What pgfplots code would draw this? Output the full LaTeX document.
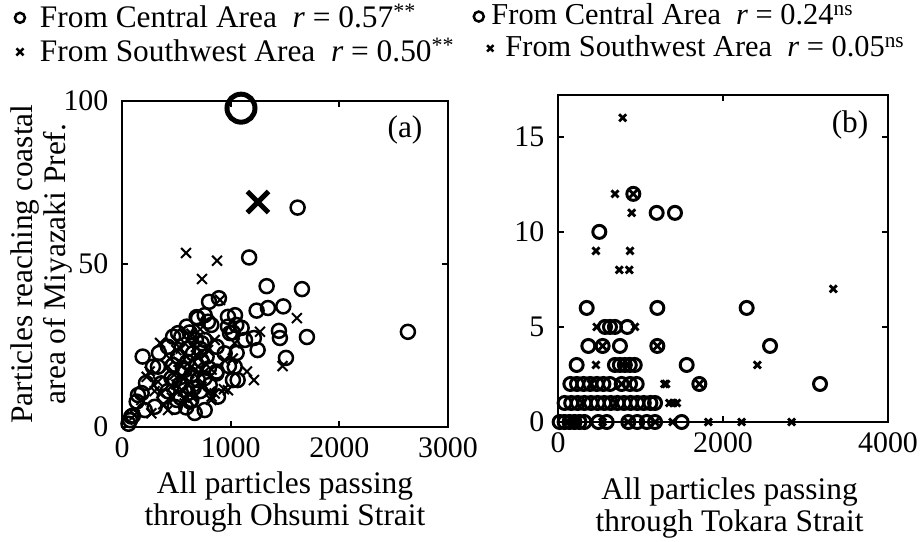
\documentclass[border=0pt]{standalone}
\usepackage{pgfplots}
\pgfplotsset{compat=1.18}
\usepackage{fontspec}
\setmainfont{Liberation Serif}
\newcommand{\bigf}{\fontsize{31.5}{33}\selectfont}
\newcommand{\legbf}{\fontsize{30.5}{32}\selectfont}
\newcommand{\tickf}{\fontsize{30}{32}\selectfont}

\pgfplotstableread{
x y
1616 67.3
1170 52
1331 43.2
1656 42.3
892 39.5
801 38.4
2631 29.2
1484 37
1343 36.5
1239 35.7
1702 27.6
1444 29.5
1453 27.3
1509 21.2
1248 23.6
1214 27.3
1064 14.4
984 18.7
1055 22.7
994 28.8
975 30.8
1040 34.3
975 33.8
1101 30.4
1132 26.7
687 33.7
791 32.3
595 30.8
516 28.8
470 27.7
190 21.6
340 22.7
285 18.5
181 10.4
74 2.1
100 3.5
60 1.0
135 7.8
503 8.3
626 7.8
610 10.4
871 17
779 21.6
871 24.6
733 25.7
680 26.7
86 3.2
147 9.8
221 13.5
331 18.5
423 24.6
546 27.7
623 29
699 33.3
761 34.3
822 31.3
1052 31.3
1020 29
945 22.6
1037 18.5
1021 14.4
868 16.4
807 12.9
638 8.3
485 6.2
393 9.3
301 6.2
209 5.2
730 20.5
653 22.6
577 17.5
485 14.4
699 14.4
515 21.6
761 26.7
577 11.3
362 13.4
883 9.3
761 5.2
669 4.3
420 11
455 15
530 13
560 18
600 20
640 16
690 19
720 11
760 15
800 18
540 9
470 19
610 24
660 12
590 6
720 24
}\tabAcen

\pgfplotstableread{
x y
589 53.4
875 51
736 45.4
1610 33.4
1270 29.2
1478 18.7
1214 14.4
938 11.6
825 9.3
902 39
350 25.8
227 15.4
810 10.8
825 17.6
331 13.9
255 17
423 18.5
500 23.6
577 25.7
669 26.7
791 23.6
853 10.3
822 8.3
178 8.3
362 10.3
454 12.4
546 15.4
607 19.5
699 18.5
730 12.4
577 7.2
423 5.2
270 4.2
117 3.7
945 20.5
853 26.7
1037 25.7
1150 17
975 11.3
1020 21
640 28.6
720 30
760 22
480 16
520 20
620 14
680 22
560 11
460 9
380 7
300 11
500 13
600 17
650 9
700 15
440 21
540 24
760 17
}\tabAsw

\pgfplotstableread{
x y
913 12
1196 11
1418 11
501 10
348 6
1204 6
2287 6
570 5
630 5
690 5
840 5
368 4
541 4
751 4
1204 4
2570 4
226 3
690 3
750 3
810 3
870 3
930 3
1560 3
150 2
230 2
310 2
390 2
470 2
550 2
630 2
772 2
873 2
954 2
1713 2
3176 2
80 1
160 1
240 1
320 1
400 1
480 1
560 1
640 1
720 1
800 1
880 1
960 1
1040 1
1120 1
1176 1
20 0
80 0
140 0
200 0
260 0
320 0
489 0
590 0
852 0
960 0
1075 0
1176 0
1499 0
}\tabBcen

\pgfplotstableread{
x y
784 16
691 12
913 12
893 11
460 9
873 9
743 8
864 8
3337 7
469 5
933 5
541 4
1204 4
460 3
2416 3
772 2
1290 2
1310 2
1713 2
1350 1
1398 1
1440 1
540 0
850 0
1176 0
1390 0
1822 0
2226 0
2832 0
300 1
700 1
200 0
400 2
}\tabBsw

\begin{document}
\bigf
\begin{tikzpicture}[font=\bigf]
\path[use as bounding box] (-122bp,-115bp) rectangle (800bp,427bp);
\pgfplotsset{
  myax/.style={
    scale only axis, clip=false,
    axis line style={line width=2.5bp},
    every tick/.style={line width=2bp, black},
    major tick length=6bp, tick align=inside,
    /pgf/number format/assume math mode=true,
    /pgf/number format/set thousands separator={},
    scaled ticks=false,
    tick label style={font=\tickf},
    yticklabel style={xshift=-3bp},
    legend style={draw=none, fill=none, font=\bigf, row sep=2bp,
      inner sep=0pt},
    legend cell align=left,
  },
  cen/.style={only marks, mark=o, mark size=7bp, mark options={line width=2.5bp}, black},
  sw/.style={only marks, mark=x, mark size=7bp, mark options={line width=2bp}, black},
}
\begin{axis}[myax, at={(0,0)}, anchor=south west,
  width=326bp, height=326bp,
  xmin=0, xmax=3000, ymin=0, ymax=100,
  xtick={0,1000,2000,3000}, ytick={0,50,100},
  xlabel={All particles passing\\through Ohsumi Strait},
  ylabel={Particles reaching coastal\\area of Miyazaki Pref.},
  every axis x label/.style={at={(axis description cs:0.5,-0.23)}, anchor=center, align=center, font=\bigf},
  every axis y label/.style={at={(axis description cs:-0.246,0.5)}, rotate=90, anchor=center, align=center, font=\bigf},
  legend style={at={(axis description cs:-0.329,1.305)}, anchor=north west},
]
\addlegendimage{only marks, mark=o, mark size=5bp, mark options={line width=2.5bp}, black}
\addlegendentry{\hspace{13bp}From Central Area\ \ \textit{r} = 0.57\textsuperscript{**}}
\addlegendimage{only marks, mark=x, mark size=5bp, mark options={line width=2.5bp}, black}
\addlegendentry{\hspace{13bp}From Southwest Area\ \ \textit{r} = 0.50\textsuperscript{**}}
\addplot[cen, forget plot] table[x=x,y=y] {\tabAcen};
\addplot[sw, forget plot] table[x=x,y=y] {\tabAsw};
\addplot[only marks, mark=o, mark size=14bp, mark options={line width=5bp}, black, forget plot] coordinates {(1095,97.8)};
\addplot[only marks, mark=x, mark size=15bp, mark options={line width=5bp}, black, forget plot] coordinates {(1251,69)};
\node at (rel axis cs:0.868,0.911) {(a)};
\end{axis}

\begin{axis}[myax, at={(436bp,5bp)}, anchor=south west,
  width=330bp, height=327bp,
  xmin=0, xmax=4000, ymin=0, ymax=17.2,
  xtick={0,2000,4000}, ytick={0,5,10,15},
  xlabel={All particles passing\\through Tokara Strait},
  every axis x label/.style={at={(axis description cs:0.52,-0.263)}, anchor=center, align=center, font=\bigf},
  legend style={at={(axis description cs:-0.267,1.286)}, anchor=north west, font=\legbf},
]
\addlegendimage{only marks, mark=o, mark size=5bp, mark options={line width=2.5bp}, black}
\addlegendentry{\hspace{2bp}From Central Area\ \ \textit{r} = 0.24\textsuperscript{ns}}
\addlegendimage{legend image code/.code={\path (0cm,0cm) (0.6cm,0cm); \draw[overlay, black, line width=2.5bp, mark=x, mark size=4.5bp] plot coordinates {(20bp,0cm)};}}
\addlegendentry{\hspace{16bp}From Southwest Area\ \ \textit{r} = 0.05\textsuperscript{ns}}
\addplot[only marks, mark=o, mark size=6.5bp, mark options={line width=3bp}, black, forget plot] table[x=x,y=y] {\tabBcen};
\addplot[only marks, mark=x, mark size=5bp, mark options={line width=2.8bp}, black, forget plot] table[x=x,y=y] {\tabBsw};
\node at (rel axis cs:0.885,0.908) {(b)};
\end{axis}
\end{tikzpicture}
\end{document}
